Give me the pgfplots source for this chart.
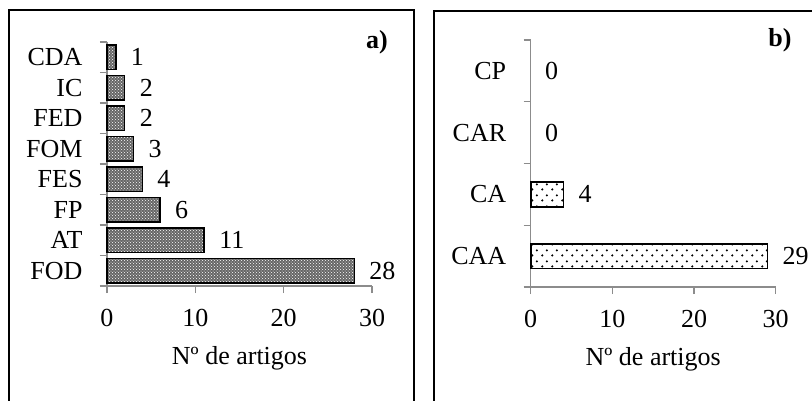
\documentclass[border=0pt]{standalone}
\usepackage{pgfplots}
\pgfplotsset{compat=1.18}
\usetikzlibrary{patterns}
\usepackage{fontspec}
\setmainfont{Liberation Serif}
\newcommand\fs{\fontsize{26}{30}\selectfont}
\pgfdeclarepatternformonly{sparsedots}{\pgfpointorigin}{\pgfpoint{10pt}{11pt}}{\pgfpoint{10pt}{11pt}}{%
  \pgfpathcircle{\pgfpoint{2.5pt}{2.75pt}}{1.3pt}%
  \pgfpathcircle{\pgfpoint{7.5pt}{8.25pt}}{1.3pt}%
  \pgfusepath{fill}}
\pgfplotsset{
  mystyle/.style={
    scale only axis,
    anchor=south west,
    xbar,
    bar shift=0pt,
    xmin=0, xmax=30,
    xtick={0,10,20,30},
    axis x line*=bottom,
    axis y line*=left,
    axis line style={-, draw=black!45, line width=1.3pt},
    tick style={draw=black!45, line width=1.3pt},
    tick align=outside,
    major tick length=7pt,
    /pgf/number format/assume math mode=true,
    tick label style={font=\fs},
    xticklabel style={yshift=-13pt},
    yticklabel style={xshift=-14pt},
    label style={font=\fs},
    xlabel={Nº de artigos},
    xlabel style={yshift=-13pt},
    yticklabels={},
    extra y tick style={tick style={draw=none}},
    nodes near coords,
    nodes near coords align={horizontal},
    every node near coord/.append style={font=\fs, anchor=west, xshift=11pt},
    clip=false,
  }
}
\begin{document}
\begin{tikzpicture}
% frames
\draw[line width=2pt] (8.5pt,390pt) rectangle (414pt,-20pt);
\draw[line width=2pt] (434pt,389pt) rectangle (840pt,-20pt);

\begin{axis}[mystyle,
  at={(107pt,114pt)}, width=265pt, height=244pt,
  ymin=0.5, ymax=8.5,
  ytick={0.5,1.5,...,8.5},
  extra y ticks={1,2,3,4,5,6,7,8},
  extra y tick labels={FOD,AT,FP,FES,FOM,FED,IC,CDA},
  bar width=0.81,
]
\addplot[draw=black, line width=1.6pt, fill=black!60,
  postaction={pattern=crosshatch dots, pattern color=white}]
  coordinates {(28,1) (11,2) (6,3) (4,4) (3,5) (2,6) (2,7) (1,8)};
\end{axis}

\begin{axis}[mystyle,
  at={(530.7pt,113pt)}, width=245pt, height=247pt,
  ymin=0.5, ymax=4.5,
  ytick={0.5,1.5,...,4.5},
  extra y ticks={1,2,3,4},
  extra y tick labels={CAA,CA,CAR,CP},
  bar width=0.4,
]
\addplot[draw=black, line width=1.6pt, fill=white,
  postaction={pattern=sparsedots, pattern color=black}]
  coordinates {(29,1) (4,2)};
\addplot[draw=none, fill=none]
  coordinates {(0,3) (0,4)};
\end{axis}

\node[font=\fs\bfseries] at (377pt,357.5pt) {a)};
\node[font=\fs\bfseries] at (780pt,360pt) {b)};

\pgfresetboundingbox
\useasboundingbox (0pt,0pt) rectangle (812pt,400pt);
\end{tikzpicture}
\end{document}
